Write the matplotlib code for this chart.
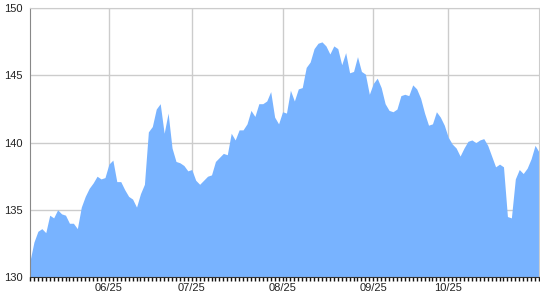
import matplotlib.pyplot as plt

# --------- DATA ---------
# one value per trading day
prices = [
    131.2, 132.6, 133.4, 133.6, 133.3, 134.6, 134.4, 135.0, 134.7, 134.6,
    134.0, 134.0, 133.6, 135.2, 136.0, 136.6, 137.0, 137.5, 137.3, 137.4,
    138.4, 138.7, 137.1, 137.1, 136.5, 136.0, 135.8, 135.2, 136.2, 136.9,
    140.8, 141.2, 142.5, 142.9, 140.7, 142.2, 139.6, 138.6, 138.5, 138.3,
    137.9, 138.0, 137.2, 136.9, 137.2, 137.5, 137.6, 138.6, 138.9, 139.2,
    139.1, 140.7, 140.2, 140.95, 140.95, 141.4, 142.4, 141.95, 142.9, 142.9,
    143.1, 143.8, 141.9, 141.4, 142.3, 142.2, 143.9, 143.1, 144.0, 144.1,
    145.6, 146.0, 147.0, 147.4, 147.5, 147.2, 146.6, 147.2, 147.0, 145.8,
    146.7, 145.2, 145.3, 146.4, 145.3, 145.1, 143.6, 144.4, 144.8, 144.1,
    142.9, 142.4, 142.3, 142.5, 143.5, 143.6, 143.5, 144.3, 144.0, 143.3,
    142.2, 141.3, 141.4, 142.3, 141.9, 141.3, 140.4, 139.9, 139.6, 139.0,
    139.6, 140.1, 140.2, 140.0, 140.2, 140.3, 139.8, 139.0, 138.2, 138.4,
    138.2, 134.5, 134.4, 137.3, 138.0, 137.7, 138.1, 138.8, 139.8, 139.3,
]
# index of the trading day each month label sits on
label_pos = [20, 41, 64, 87, 106]
labels = ["06/25", "07/25", "08/25", "09/25", "10/25"]
yticks = [130, 135, 140, 145, 150]
# ------------------------

plt.rcParams["font.family"] = ["Liberation Sans", "DejaVu Sans"]

YMIN, YMAX = 130, 150
x = list(range(len(prices)))

fig = plt.figure(figsize=(5.4, 3.0), dpi=100)
ax = fig.add_axes([30 / 540, 23 / 300, 509 / 540, 268.7 / 300])

ax.fill_between(x, prices, YMIN, color="#78b3ff", linewidth=0)

ax.set_xlim(0, len(prices) - 1)
ax.set_ylim(YMIN, YMAX)

ax.set_yticks(yticks)
ax.set_xticks(label_pos)
ax.set_xticklabels(labels)
ax.set_xticks(x, minor=True)

ax.grid(True, which="major", color="#cccccc", linewidth=1)
ax.set_axisbelow(True)

ax.tick_params(axis="y", length=0, pad=5, labelsize=8, labelcolor="#222222")
ax.tick_params(axis="x", which="both", length=3, width=1, color="#111111",
               direction="out", labelsize=8, labelcolor="#222222", pad=1)

for side in ["top", "right"]:
    ax.spines[side].set_color("#cccccc")
ax.spines["left"].set_color("#888888")
ax.spines["bottom"].set_color("#333333")

fig.savefig("out.png", dpi=100)
